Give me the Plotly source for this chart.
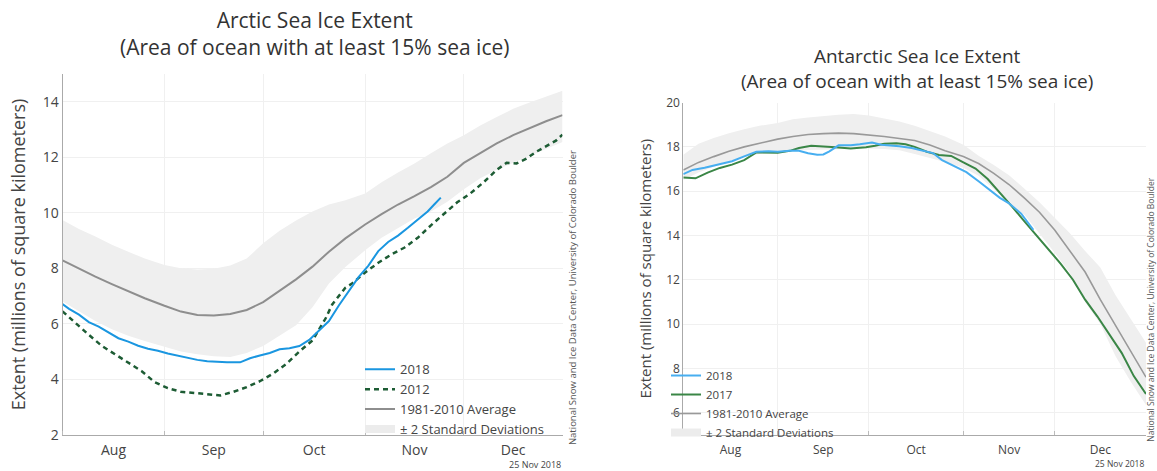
import pandas as pd
import plotly.graph_objects as go

# ---------------- data (day offsets from 1 Aug) ----------------
season_start = "2018-08-01"

# Arctic
arc_band_days = [0, 5, 10, 15, 20, 25, 31, 36, 41, 46, 51, 56, 61, 66, 71, 76, 81, 86, 92, 97,
                 102, 107, 112, 117, 122, 127, 132, 137, 142, 147, 152]
arc_avg = [8.29, 7.98, 7.70, 7.43, 7.17, 6.92, 6.65, 6.44, 6.32, 6.30, 6.35, 6.50, 6.78, 7.18,
           7.60, 8.06, 8.60, 9.08, 9.58, 9.95, 10.30, 10.60, 10.93, 11.30, 11.80, 12.15, 12.50,
           12.80, 13.05, 13.30, 13.52]
arc_upper = [9.74, 9.42, 9.15, 8.85, 8.60, 8.35, 8.12, 8.00, 7.96, 7.98, 8.10, 8.35, 8.90, 9.35,
             9.72, 10.05, 10.30, 10.45, 10.70, 11.10, 11.45, 11.78, 12.15, 12.50, 12.80, 13.15,
             13.45, 13.75, 13.98, 14.20, 14.40]
arc_lower = [6.80, 6.45, 6.10, 5.80, 5.57, 5.38, 5.18, 5.00, 4.90, 4.83, 4.80, 4.95, 5.20, 5.58,
             5.95, 6.60, 7.45, 8.05, 8.65, 9.10, 9.45, 9.80, 10.05, 10.40, 10.85, 11.25, 11.55,
             11.80, 12.05, 12.30, 12.55]

arc_2018_days = [0, 2, 5, 8, 11, 14, 17, 20, 23, 26, 29, 32, 35, 38, 41, 44, 47, 50, 54, 57, 60,
                 63, 66, 69, 72, 75, 78, 81, 84, 87, 90, 93, 96, 99, 102, 105, 108, 111, 113, 115]
arc_2018 = [6.71, 6.54, 6.33, 6.06, 5.90, 5.68, 5.48, 5.36, 5.21, 5.10, 5.03, 4.93, 4.85, 4.78,
            4.70, 4.65, 4.62, 4.61, 4.61, 4.76, 4.86, 4.95, 5.08, 5.12, 5.20, 5.42, 5.76, 6.10,
            6.66, 7.18, 7.68, 8.10, 8.62, 8.95, 9.18, 9.46, 9.75, 10.05, 10.30, 10.55]

arc_2012_days = [0, 4, 8, 12, 16, 20, 24, 28, 32, 36, 40, 44, 48, 52, 56, 60, 64, 68, 72, 76, 78,
                 80, 82, 84, 86, 88, 92, 96, 100, 104, 108, 112, 116, 120, 124, 128, 132, 135,
                 138, 141, 144, 147, 150, 152]
arc_2012 = [6.45, 6.02, 5.60, 5.20, 4.90, 4.60, 4.30, 3.90, 3.68, 3.55, 3.50, 3.46, 3.42, 3.55,
            3.72, 3.93, 4.20, 4.55, 5.00, 5.40, 5.80, 6.20, 6.70, 7.00, 7.30, 7.45, 7.85, 8.20,
            8.50, 8.75, 9.10, 9.55, 9.98, 10.38, 10.70, 11.10, 11.55, 11.80, 11.78, 11.95,
            12.20, 12.40, 12.60, 12.82]

# Antarctic
ant_band_days = arc_band_days
ant_avg = [16.96, 17.30, 17.56, 17.80, 18.00, 18.17, 18.35, 18.47, 18.56, 18.60, 18.62, 18.60,
           18.55, 18.47, 18.38, 18.29, 18.08, 17.82, 17.57, 17.25, 16.80, 16.30, 15.70, 15.05,
           14.25, 13.30, 12.35, 11.10, 9.95, 8.80, 7.60]
ant_upper = [17.64, 18.14, 18.40, 18.62, 18.80, 18.95, 19.08, 19.25, 19.33, 19.40, 19.45, 19.48,
             19.42, 19.28, 19.15, 18.95, 18.70, 18.47, 18.10, 17.60, 17.18, 16.72, 16.12, 15.50,
             14.80, 14.10, 13.30, 12.55, 11.30, 10.20, 9.16]
ant_lower = [16.50, 16.84, 17.10, 17.35, 17.55, 17.68, 17.75, 17.83, 17.86, 17.88, 17.90, 17.92,
             17.93, 17.90, 17.85, 17.68, 17.50, 17.32, 17.06, 16.70, 16.10, 15.45, 14.95, 14.10,
             13.22, 12.30, 11.00, 10.00, 8.55, 7.40, 6.35]

ant_2018_days = [0, 3, 7, 11, 16, 20, 24, 28, 31, 35, 38, 41, 44, 46, 48, 51, 55, 58, 62, 65, 68,
                 71, 75, 78, 82, 85, 89, 93, 97, 101, 104, 107, 111, 115]
ant_2018 = [16.77, 16.96, 17.06, 17.20, 17.35, 17.57, 17.78, 17.80, 17.78, 17.83, 17.82, 17.71,
            17.64, 17.66, 17.80, 18.07, 18.07, 18.12, 18.20, 18.10, 18.08, 18.03, 17.95, 17.86,
            17.72, 17.40, 17.13, 16.86, 16.45, 16.00, 15.70, 15.45, 14.98, 14.25]

ant_2017_days = [0, 4, 8, 12, 16, 20, 24, 28, 31, 35, 38, 42, 46, 50, 55, 60, 63, 66, 70, 73, 76,
                 80, 84, 88, 92, 96, 100, 104, 108, 112, 116, 120, 124, 128, 132, 136, 140, 144,
                 148, 152]
ant_2017 = [16.62, 16.58, 16.84, 17.05, 17.20, 17.40, 17.75, 17.76, 17.74, 17.82, 17.95, 18.05,
            18.03, 17.98, 17.93, 17.98, 18.05, 18.14, 18.16, 18.12, 18.00, 17.78, 17.63, 17.59,
            17.30, 17.02, 16.55, 15.95, 15.30, 14.65, 14.00, 13.40, 12.72, 12.00, 11.10, 10.35,
            9.50, 8.70, 7.65, 6.84]

source_text = "National Snow and Ice Data Center, University of Colorado Boulder"
date_text = "25 Nov 2018"


def to_dates(days):
    return pd.Timestamp(season_start) + pd.to_timedelta(days, unit="D")


W, H = 1157, 471
FONT = "Open Sans, Noto Sans, sans-serif"
TXT = "#444"
BAND = "#efefef"


def px(x):
    return x / W


def py(y):
    return 1 - y / H


fig = go.Figure()


def add_panel(xa, ya, leg, days_band, upper, lower, avg, d_a, v_a, name_a, style_a,
              d_b, v_b, name_b, style_b, avg_w, avg_c):
    fig.add_trace(go.Scatter(x=to_dates(days_band), y=upper, mode="lines",
                             line=dict(width=0, color=BAND), showlegend=False,
                             hoverinfo="skip", xaxis=xa, yaxis=ya))
    fig.add_trace(go.Scatter(x=to_dates(days_band), y=lower, mode="lines", fill="tonexty",
                             fillcolor=BAND, line=dict(width=0, color=BAND), showlegend=False,
                             xaxis=xa, yaxis=ya))
    # legend-only entry for the band (thick light line symbol, like the original)
    fig.add_trace(go.Scatter(x=[None], y=[None], mode="lines",
                             line=dict(width=8, color="#ececec"),
                             name="± 2 Standard Deviations", legend=leg, legendrank=4,
                             xaxis=xa, yaxis=ya))
    fig.add_trace(go.Scatter(x=to_dates(days_band), y=avg, mode="lines",
                             line=dict(width=avg_w, color=avg_c), name="1981-2010 Average",
                             legend=leg, legendrank=3, xaxis=xa, yaxis=ya))
    fig.add_trace(go.Scatter(x=to_dates(d_b), y=v_b, mode="lines", line=style_b,
                             name=name_b, legend=leg, legendrank=2, xaxis=xa, yaxis=ya))
    fig.add_trace(go.Scatter(x=to_dates(d_a), y=v_a, mode="lines", line=style_a,
                             name=name_a, legend=leg, legendrank=1, xaxis=xa, yaxis=ya))


add_panel("x", "y", "legend", arc_band_days, arc_upper, arc_lower, arc_avg,
          arc_2018_days, arc_2018, "2018", dict(width=2, color="#1a96e0"),
          arc_2012_days, arc_2012, "2012", dict(width=2.5, color="#1d5c34", dash="5px,4px"),
          2, "#8e8e8e")
add_panel("x2", "y2", "legend2", ant_band_days, ant_upper, ant_lower, ant_avg,
          ant_2018_days, ant_2018, "2018", dict(width=2, color="#47aef0"),
          ant_2017_days, ant_2017, "2017", dict(width=2, color="#3a8646"),
          1.6, "#999999")

x_range = ["2018-08-01", "2018-12-31"]
xaxis_common = dict(type="date", range=x_range, dtick="M1", tick0="2018-08-01",
                    tickformat="%b", ticklabelmode="period", showgrid=True,
                    gridcolor="#f0f0f0", showline=True, linecolor="#aaaaaa", linewidth=1,
                    ticks="inside", ticklen=4, tickcolor="#bbbbbb", zeroline=False)
yaxis_common = dict(showgrid=True, gridcolor="#f0f0f0", showline=True, linecolor="#aaaaaa",
                    linewidth=1, zeroline=False, ticks="", dtick=2)

L_LEFT, L_RIGHT, L_TOP, L_BOT = 62.5, 562.5, 67.7, 442.7
R_LEFT, R_RIGHT, R_TOP, R_BOT = 683.3, 1146, 97.3, 442.7

fig.update_layout(
    width=W, height=H, autosize=False,
    margin=dict(l=0, r=0, t=0, b=0),
    paper_bgcolor="white", plot_bgcolor="white",
    font=dict(family=FONT, color=TXT),
    xaxis=dict(**xaxis_common, domain=[px(L_LEFT), px(L_RIGHT)], anchor="y",
               tickfont=dict(size=14, color=TXT), ticklabelstandoff=2),
    yaxis=dict(**yaxis_common, domain=[py(L_BOT), py(L_TOP)], anchor="x", range=[2, 15],
               tick0=2, tickfont=dict(size=14, color=TXT),
               title=dict(text="Extent (millions of square kilometers)",
                          font=dict(size=18, color=TXT), standoff=12)),
    xaxis2=dict(**xaxis_common, domain=[px(R_LEFT), px(R_RIGHT)], anchor="y2",
                tickfont=dict(size=12, color=TXT), ticklabelstandoff=4),
    yaxis2=dict(**yaxis_common, domain=[py(R_BOT), py(R_TOP)], anchor="x2", range=[5, 20],
                tick0=0, tickfont=dict(size=12, color=TXT),
                title=dict(text="Extent (millions of square kilometers)",
                           font=dict(size=15, color=TXT), standoff=10)),
    legend=dict(x=px(360), y=py(359), xanchor="left", yanchor="top",
                bgcolor="rgba(0,0,0,0)", font=dict(size=13, color=TXT), itemwidth=30,
                tracegroupgap=0, traceorder="normal"),
    legend2=dict(x=px(666), y=py(366), xanchor="left", yanchor="top",
                 bgcolor="rgba(0,0,0,0)", font=dict(size=11.5, color=TXT), itemwidth=30,
                 tracegroupgap=0, traceorder="normal"),
    showlegend=True,
)

annotations = [
    dict(text="Arctic Sea Ice Extent<br>(Area of ocean with at least 15% sea ice)",
         x=px(314), y=py(-5), xanchor="center", yanchor="top", showarrow=False,
         font=dict(size=21, color="#333"), xref="paper", yref="paper"),
    dict(text="Antarctic Sea Ice Extent<br>(Area of ocean with at least 15% sea ice)",
         x=px(917), y=py(33), xanchor="center", yanchor="top", showarrow=False,
         font=dict(size=19, color="#333"), xref="paper", yref="paper"),
    dict(text=source_text, x=px(572), y=py(456), xanchor="center", yanchor="bottom",
         textangle=-90, showarrow=False, font=dict(size=9.5, color="#555"),
         xref="paper", yref="paper"),
    dict(text=source_text, x=px(1151), y=py(452), xanchor="center", yanchor="bottom",
         textangle=-90, showarrow=False, font=dict(size=8.5, color="#555"),
         xref="paper", yref="paper"),
    dict(text=date_text, x=px(L_RIGHT), y=py(465), xanchor="right", yanchor="top",
         showarrow=False, font=dict(size=9, color="#444"), xref="paper", yref="paper"),
    dict(text=date_text, x=px(R_RIGHT), y=py(465), xanchor="right", yanchor="top",
         showarrow=False, font=dict(size=8.5, color="#444"), xref="paper", yref="paper"),
]
fig.update_layout(annotations=annotations)

fig.write_html("out.html", config={"displayModeBar": False},
               post_script="document.body.style.margin='0';")
